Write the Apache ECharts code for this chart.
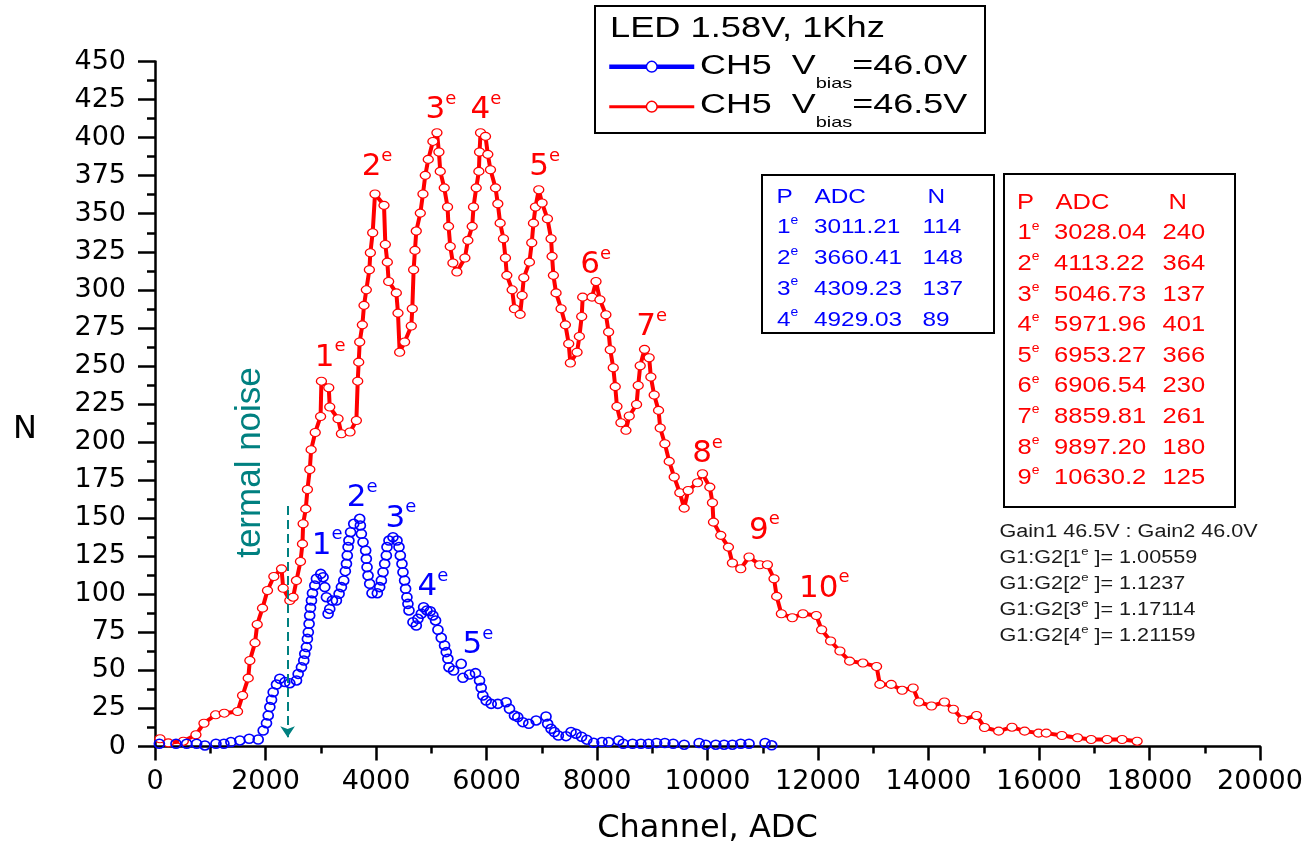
<!DOCTYPE html>
<html><head><meta charset="utf-8">
<script src="https://cdn.jsdelivr.net/npm/echarts@6/dist/echarts.min.js"></script>
<style>html,body{margin:0;padding:0;background:#fff}#c{width:1313px;height:851px}</style>
</head><body><div id="c"></div>
<script>
// ---------- data ----------
const xTicks = {min: 0, max: 20000, interval: 2000};
const yTicks = {min: 0, max: 450, interval: 25};

const redSeriesName = 'CH5 Vbias=46.5V';
const blueSeriesName = 'CH5 Vbias=46.0V';

const redData = [[91,5.1],[241,2.4],[512,3.5],[741,7.7],[886,15.3],[1097,20.8],[1253,21.9],[1494,23],[1585,33.5],[1687,44.9],[1717,56.5],[1810,68.1],[1850,80.2],[1946,90.9],[2036,102.5],[2151,111.7],[2290,116.7],[2320,104],[2440,95.9],[2500,98.1],[2560,109],[2633,121.5],[2669,133.1],[2681,146.3],[2729,156.1],[2759,168.8],[2802,182],[2826,195],[2900,206.3],[2997,216.8],[3012,240],[3145,235.7],[3163,223],[3313,215.3],[3374,205.5],[3530,206.6],[3645,214.2],[3669,240],[3687,252.5],[3705,265.7],[3753,277],[3783,289.8],[3825,300],[3880,313.2],[3898,324.4],[3940,337.5],[3982,363],[4145,355.5],[4169,329.8],[4205,318.2],[4229,305.5],[4368,298],[4398,284.7],[4428,259],[4518,265.7],[4639,276.2],[4657,287.6],[4681,313.2],[4705,325.9],[4729,338.6],[4802,350.4],[4850,363],[4892,375.2],[4946,385.7],[5030,397.5],[5103,403.2],[5139,390.5],[5163,377.8],[5235,367],[5295,354.4],[5313,341.7],[5344,328.5],[5392,317.6],[5464,311.7],[5609,320.9],[5663,332.5],[5741,341.7],[5765,354.4],[5814,367],[5862,377.8],[5874,390.5],[5892,403.2],[5982,400.8],[6024,389],[6072,378.9],[6163,367],[6205,356.5],[6247,343.8],[6307,333.6],[6343,320.9],[6368,309.5],[6464,300],[6506,287.6],[6609,283.9],[6645,296.3],[6675,307.9],[6777,318.2],[6819,330.9],[6850,343.8],[6886,354.4],[6946,365.7],[7006,357],[7103,346.7],[7169,333.6],[7187,322],[7211,309.5],[7259,298],[7350,287.6],[7428,277],[7488,264.6],[7518,251.9],[7639,259],[7681,269.4],[7723,282.5],[7741,295.2],[7910,295.2],[7982,305.5],[8053,293.5],[8161,283.6],[8210,272.3],[8240,260.6],[8294,248.8],[8330,236.4],[8361,223.4],[8433,212.7],[8524,207.7],[8584,217.1],[8716,224.7],[8746,237.2],[8782,250.1],[8860,260.9],[8944,255.4],[8975,242.7],[9035,230.9],[9114,220.8],[9144,209.2],[9228,198.9],[9307,187.3],[9397,177],[9499,166.7],[9578,156.6],[9650,168.2],[9819,173.3],[9909,179.2],[10042,170.4],[10090,160.1],[10108,147.4],[10240,138.7],[10379,131],[10451,120.5],[10602,116.8],[10752,124.5],[10945,119.4],[11084,119.4],[11204,110.2],[11252,98.6],[11337,87.2],[11535,84.6],[11728,87.2],[11969,86.1],[12066,76.7],[12228,69.3],[12397,62.7],[12572,56.1],[12813,54.8],[13060,52.6],[13120,40.8],[13325,40.8],[13523,36.9],[13722,38.4],[13825,29.2],[14054,26.6],[14288,29.2],[14450,24.5],[14620,17.6],[14870,20.4],[15014,12.5],[15270,10.1],[15511,12.7],[15740,10.1],[15992,8.8],[16131,8.8],[16414,7.2],[16697,5.7],[16944,4.6],[17233,4.6],[17504,4.6],[17776,3.5]];

const blueData = [[79,1.8],[380,1.8],[573,1.8],[753,1.8],[904,0.7],[1103,1.8],[1247,1.8],[1374,2.9],[1536,4],[1705,5.1],[1868,4.6],[1958,10.5],[2018,15.3],[2049,20.4],[2079,25.9],[2109,30.7],[2139,35.7],[2199,40.7],[2259,44.5],[2350,42.3],[2440,41.6],[2561,43.4],[2591,47.7],[2651,52.1],[2693,56.5],[2711,60.9],[2741,65.3],[2758,70.7],[2775,75.1],[2789,80.6],[2800,86.1],[2814,91.1],[2832,95.9],[2850,100.7],[2892,105.8],[2922,110.2],[3000,113.4],[3042,111.2],[3073,104.7],[3103,98.1],[3133,87.2],[3163,90.4],[3211,95.9],[3283,95.9],[3332,100.3],[3374,104.7],[3416,109.1],[3445,115.2],[3465,120],[3480,125.5],[3495,131],[3510,135.3],[3540,140.8],[3597,146.3],[3705,149.6],[3717,145.2],[3735,139.7],[3765,134.2],[3813,128.8],[3825,123.3],[3838,117.8],[3856,112.3],[3886,106.9],[3928,100.7],[4024,100.7],[4067,104.7],[4097,109.1],[4127,114.5],[4157,120],[4187,125.5],[4199,131],[4235,135.3],[4307,137.5],[4380,135.3],[4416,131],[4440,125.5],[4470,120],[4488,114.5],[4518,109.1],[4536,103.6],[4560,98.1],[4578,93.7],[4597,89.4],[4669,81.7],[4729,79.5],[4759,83.9],[4820,87.2],[4862,91.5],[4922,89.4],[4982,88.9],[5030,86.1],[5078,82.8],[5121,76.7],[5181,71.4],[5241,66.4],[5271,62],[5301,57.6],[5320,52.1],[5404,49.9],[5542,54.3],[5573,45.1],[5693,47.3],[5801,48.2],[5874,43.4],[5904,38.6],[5934,33.5],[5994,30.2],[6085,28],[6205,28],[6355,29.1],[6416,24.8],[6506,20.4],[6566,19.3],[6657,16],[6765,14.9],[6898,17.1],[7077,19.7],[7107,14.9],[7168,11.6],[7228,9.5],[7300,7.2],[7440,6.8],[7530,9.6],[7620,8.4],[7720,6.4],[7815,4.5],[7940,2.4],[8090,2.9],[8210,2.9],[8391,4],[8475,1.8],[8644,1.8],[8795,1.8],[8933,1.8],[9078,2.3],[9228,2.3],[9379,1.8],[9578,1.2],[9849,2.3],[9969,1.2],[10150,1.2],[10300,1.2],[10451,1.2],[10602,1.8],[10752,1.8],[11042,2.3],[11162,0.8]];

// peak annotations: [ADC, N, order]
const redPeakLabels = [[2891,255.5,'1'],[3740,380.4,'2'],[4897,417.9,'3'],[5710,417.9,'4'],[6776,380.6,'5'],[7698,316.4,'6'],[8710,275.5,'7'],[9722,191.9,'8'],[10752,141.9,'9'],[11655,103.8,'10']];
const bluePeakLabels = [[2837,132,'1'],[3469,163,'2'],[4174,149.8,'3'],[4752,104.7,'4'],[5566,66.4,'5']];

// thermal noise arrow [ADC, N]
const noiseArrow = [[2400,158],[2400,6]];

const tableHeader = ['P','ADC','N'];
const blueTableRows = [['1','3011.21','114'],['2','3660.41','148'],['3','4309.23','137'],['4','4929.03','89']];
const redTableRows = [['1','3028.04','240'],['2','4113.22','364'],['3','5046.73','137'],['4','5971.96','401'],['5','6953.27','366'],['6','6906.54','230'],['7','8859.81','261'],['8','9897.20','180'],['9','10630.2','125']];
const gainTitle = 'Gain1 46.5V : Gain2 46.0V';
const gainRows = [['1','1.00559'],['2','1.1237'],['3','1.17114'],['4','1.21159']];

// ---------- chart ----------
const RED = '#ff0000', BLUE = '#0000ff', TEAL = '#008080';
const LIB = 'Liberation Sans', DJV = 'DejaVu Sans';

function txt(x, y, text, size, color, sx, rich, extra) {
  return Object.assign({
    type: 'text', x: x, y: y, scaleX: sx || 1, z: 20, silent: true,
    style: {text: text, fontSize: size, fontFamily: LIB, fill: color,
      align: 'left', verticalAlign: 'middle', textAlign: 'left', textVerticalAlign: 'middle',
      rich: rich || undefined}
  }, extra || {});
}
function supRich(size, supSize, color, raise) {
  return {
    n: {fontSize: size, fontFamily: LIB, fill: color, color: color},
    s: {fontSize: supSize, fontFamily: LIB, fill: color, color: color, padding: [0, 0, raise * 2, 0]}
  };
}
function box(x, y, w, h) {
  return {type: 'rect', z: 15, silent: true, shape: {x: x, y: y, width: w, height: h},
    style: {fill: '#fff', stroke: '#000', lineWidth: 2}};
}
function table(rows, color, size, headX, colX, headY, rowY0, dy, sx) {
  const g = [];
  tableHeader.forEach((h, i) => g.push(txt(headX[i], headY, h, size, color, sx)));
  rows.forEach((r, k) => {
    const y = rowY0 + k * dy;
    g.push(txt(colX[0], y, '{n|' + r[0] + '}{s|e}', size, color, sx, supRich(size, 12, color, 7)));
    g.push(txt(colX[1], y, r[1], size, color, sx));
    g.push(txt(colX[2], y, r[2], size, color, sx));
  });
  return g;
}

const graphics = [];
// legend frame + title
graphics.push(box(595, 6, 390, 127));
graphics.push(txt(610, 28.8, 'LED 1.58V, 1Khz', 29, '#000', 1.25));
const legRich = {
  a: {fontSize: 27, fontFamily: LIB, fill: '#000', color: '#000'},
  b: {fontSize: 15, fontFamily: LIB, fill: '#000', color: '#000', padding: [34, 0, 0, 0]}
};
graphics.push(txt(700, 66.5, '{a|CH5  V}{b|bias}{a|=46.0V}', 27, '#000', 1.33, legRich));
graphics.push(txt(700, 106, '{a|CH5  V}{b|bias}{a|=46.5V}', 27, '#000', 1.33, legRich));
// tables
graphics.push(box(762, 175, 232, 158));
graphics.push(box(1004, 174, 231, 333));
table(blueTableRows, BLUE, 21, [776.5, 814.5, 927.5], [777, 814, 922.5], 197.3, 227.3, 30.9, 1.16).forEach(e => graphics.push(e));
table(redTableRows, RED, 22, [1017, 1055.5, 1168.5], [1017.5, 1054, 1162.5], 203.3, 233.3, 30.6, 1.16).forEach(e => graphics.push(e));
// gain text
graphics.push(txt(999.5, 531.7, gainTitle, 18, '#1a1a1a', 1.2));
gainRows.forEach((r, k) => {
  graphics.push(txt(999.5, 558.3 + k * 26, 'G1:G2[' + r[0] + '{s|e} ]= ' + r[1], 18, '#1a1a1a', 1.2,
    {s: {fontSize: 11, fontFamily: LIB, fill: '#1a1a1a', padding: [0, 0, 12, 0]}}));
});
// thermal noise text
graphics.push({type: 'text', x: 250, y: 462.5, rotation: Math.PI / 2, z: 20, silent: true,
  style: {text: 'termal noise', fontSize: 35, fontFamily: LIB, fill: TEAL,
    align: 'center', verticalAlign: 'middle', textAlign: 'center', textVerticalAlign: 'middle'}});
// y-axis title
graphics.push({type: 'text', x: 25, y: 430, z: 20, silent: true,
  style: {text: 'N', fontSize: 32, fontFamily: DJV, fill: '#000',
    align: 'center', verticalAlign: 'middle', textAlign: 'center', textVerticalAlign: 'middle'}});

function peakSeries(labels, color) {
  return {
    type: 'scatter', silent: true, z: 6, symbolSize: 0,
    itemStyle: {color: color, opacity: 1},
    data: labels.map(p => ({value: [p[0], p[1]], name: p[2]})),
    label: {
      show: true, position: 'right', distance: 0, align: 'left', verticalAlign: 'middle',
      color: color, opacity: 1, textBorderWidth: 0,
      formatter: p => '{n|' + p.name + '}{s|e}',
      rich: {
        n: {fontSize: 31, fontFamily: DJV, color: color, textBorderWidth: 0},
        s: {fontSize: 18, fontFamily: DJV, color: color, textBorderWidth: 0, padding: [0, 0, 22, 0]}
      }
    }
  };
}

const chart = echarts.init(document.getElementById('c'), null, {renderer: 'canvas'});
chart.setOption({
  animation: false,
  backgroundColor: '#fff',
  grid: {left: 155, right: 53, top: 61.5, bottom: 104.5, containLabel: false},
  xAxis: {
    type: 'value', min: xTicks.min, max: xTicks.max, interval: xTicks.interval,
    name: 'Channel, ADC', nameLocation: 'middle', nameGap: 66,
    nameTextStyle: {fontFamily: DJV, fontSize: 32, color: '#000'},
    axisLine: {show: true, onZero: false, lineStyle: {color: '#000', width: 2.5}},
    axisTick: {show: true, length: 14, lineStyle: {color: '#000', width: 2.5}},
    minorTick: {show: true, splitNumber: 2, length: 7, lineStyle: {color: '#000', width: 2.5}},
    splitLine: {show: false}, minorSplitLine: {show: false},
    axisLabel: {fontFamily: DJV, fontSize: 27, color: '#000', margin: 22, formatter: v => String(v)}
  },
  yAxis: {
    type: 'value', min: yTicks.min, max: yTicks.max, interval: yTicks.interval,
    axisLine: {show: true, onZero: false, lineStyle: {color: '#000', width: 2.5}},
    axisTick: {show: true, length: 17, lineStyle: {color: '#000', width: 2.5}},
    minorTick: {show: true, splitNumber: 2, length: 8, lineStyle: {color: '#000', width: 2.5}},
    splitLine: {show: false}, minorSplitLine: {show: false},
    axisLabel: {fontFamily: DJV, fontSize: 27, color: '#000', margin: 29, formatter: v => String(v)}
  },
  legend: {
    orient: 'vertical', left: 607, top: 60, padding: 0, itemWidth: 85, itemHeight: 13.4, itemGap: 27.2,
    selectedMode: false, formatter: () => '', z: 25,
    data: [
      {name: blueSeriesName, itemStyle: {color: '#fff', borderColor: BLUE, borderWidth: 1.5},
        lineStyle: {color: BLUE, width: 4.5, opacity: 1}},
      {name: redSeriesName, itemStyle: {color: '#fff', borderColor: RED, borderWidth: 1.5},
        lineStyle: {color: RED, width: 3, opacity: 1}}
    ]
  },
  series: [
    {
      type: 'line', name: redSeriesName, data: redData, z: 3,
      symbol: 'circle', symbolSize: [10, 8], showAllSymbol: true, sampling: null,
      itemStyle: {color: '#fff', borderColor: RED, borderWidth: 1.2},
      lineStyle: {color: RED, width: 4},
      emphasis: {disabled: true},
      markLine: {
        silent: true, animation: false, symbol: ['none', 'arrow'], symbolSize: 11,
        label: {show: false},
        lineStyle: {color: TEAL, width: 2, type: [9, 5]},
        emphasis: {disabled: true},
        data: [[{coord: noiseArrow[0]}, {coord: noiseArrow[1]}]]
      }
    },
    {
      type: 'line', name: blueSeriesName, data: blueData, z: 4,
      symbol: 'circle', symbolSize: [10, 9], showAllSymbol: true, sampling: null,
      itemStyle: {color: 'rgba(255,255,255,0)', borderColor: BLUE, borderWidth: 1.6},
      lineStyle: {color: BLUE, width: 2, opacity: 0},
      emphasis: {disabled: true}
    },
    peakSeries(redPeakLabels, RED),
    peakSeries(bluePeakLabels, BLUE)
  ],
  graphic: graphics
});
</script></body></html>
